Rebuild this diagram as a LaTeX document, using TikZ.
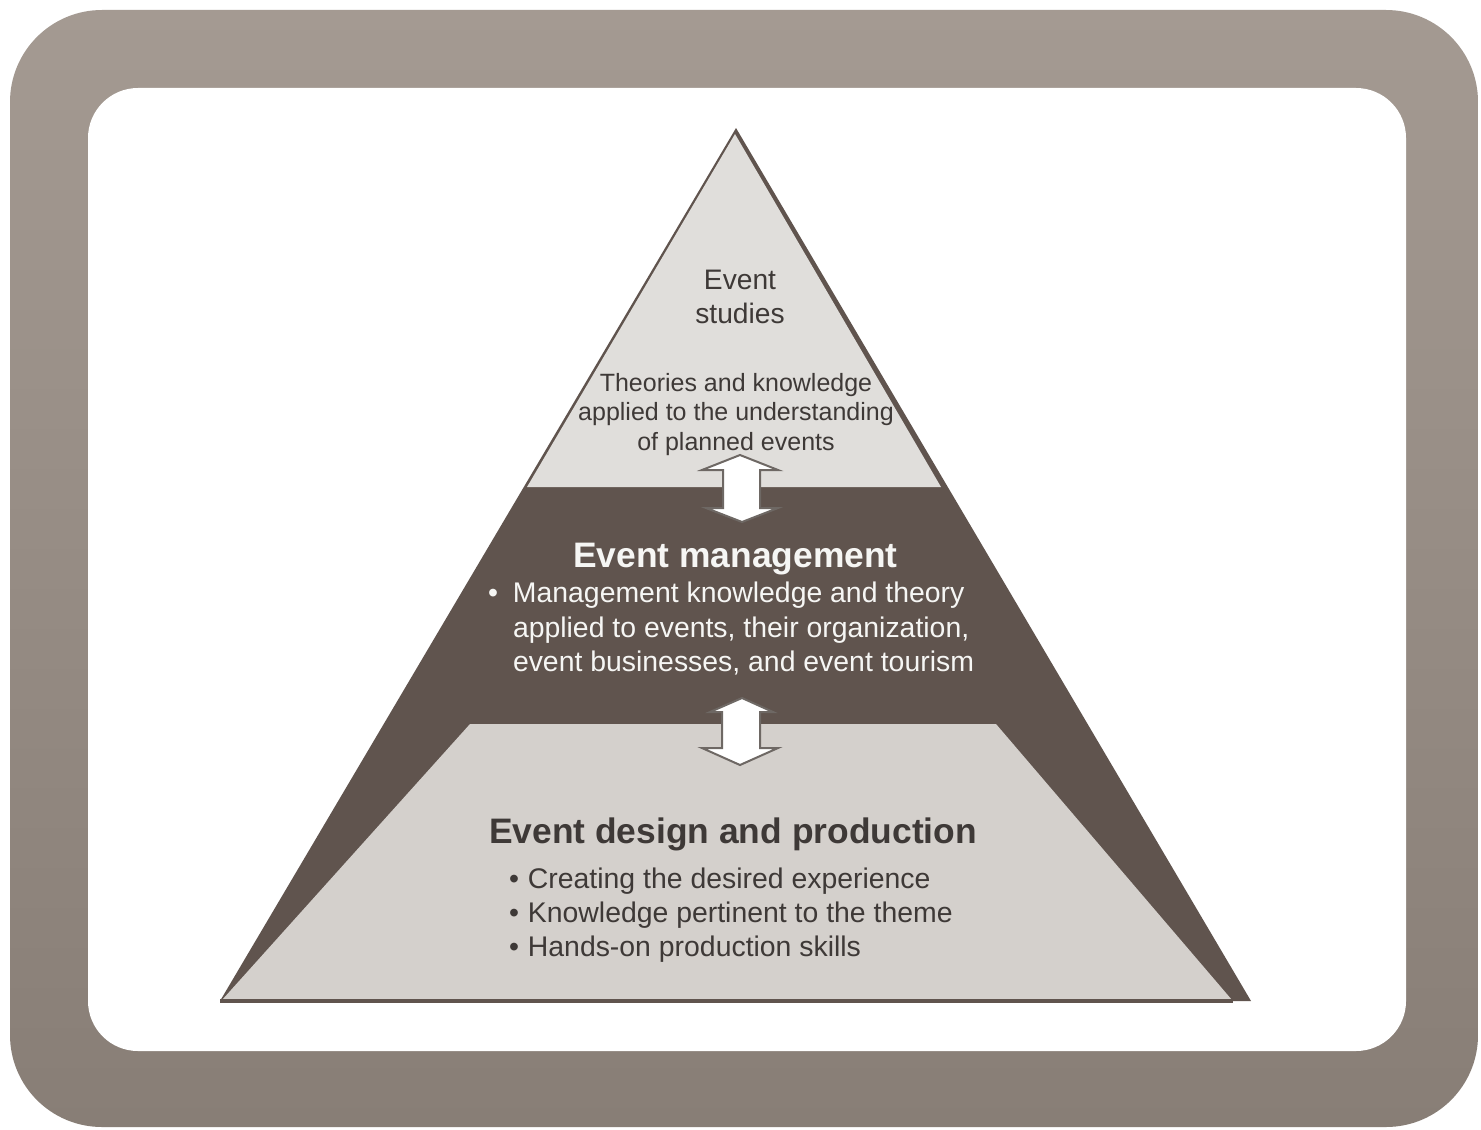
\documentclass[tikz,border=0pt]{standalone}
\usepackage{fontspec}
\setmainfont{Liberation Sans}
\definecolor{darkc}{RGB}{96,84,78}
\definecolor{lightb}{RGB}{212,208,204}
\definecolor{lightt}{RGB}{224,222,219}
\definecolor{txtc}{RGB}{62,57,55}
\definecolor{wtxt}{RGB}{246,246,244}
\definecolor{frametop}{RGB}{164,154,146}
\definecolor{framebot}{RGB}{136,126,118}
\definecolor{arrowline}{RGB}{110,104,100}
\begin{document}
\begin{tikzpicture}[x=0.5pt,y=-0.5pt,
  txt/.style={inner sep=0pt, outer sep=0pt, text=txtc},
  studies/.style={txt, anchor=base, font=\fontsize{14.1pt}{17pt}\selectfont},
  theory/.style={txt, anchor=base, font=\fontsize{12.5pt}{15pt}\selectfont},
  title/.style={txt, anchor=base, font=\fontsize{17.7pt}{21pt}\selectfont\bfseries},
  bullet/.style={txt, anchor=base west, font=\fontsize{14.2pt}{17pt}\selectfont},
  blockarrow/.style={fill=white, draw=arrowline, line width=1pt, line join=miter}]
\useasboundingbox (0,0) rectangle (1481,1129);
\fill[white] (0,0) rectangle (1481,1129);
% frame
\shade[top color=frametop, bottom color=framebot, rounded corners=46pt] (10,10) rectangle (1478,1127);
\fill[white, rounded corners=25pt] (88,88) rectangle (1406,1051);
% pyramid
\fill[darkc] (736,128) -- (1251,1001) -- (220,1001) -- cycle;
\fill[lightt] (735,134) -- (941,487) -- (527,487) -- cycle;
\fill[lightb] (470,724) -- (996,724) -- (1232,1000) -- (222,1000) -- cycle;
\draw[darkc, line width=1.6pt] (220,1001) -- (1233,1001);
% double block arrows
\draw[blockarrow] (740,455) -- (778,470) -- (760,470) -- (760,508) -- (778,508)
  -- (742,522) -- (706,508) -- (723,508) -- (723,470) -- (702,470) -- cycle;
\draw[blockarrow] (742,698) -- (773,712) -- (760,712) -- (760,748) -- (778,748)
  -- (740,765) -- (702,748) -- (722,748) -- (722,712) -- (710,712) -- cycle;
% top tier text
\node[studies] (es1) at (740,289) {Event};
\node[studies] (es2) at (740,323) {studies};
\node[theory] (th1) at (736,391) {Theories and knowledge};
\node[theory] (th2) at (736,420) {applied to the understanding};
\node[theory] (th3) at (736,450) {of planned events};
% middle tier text
\node[title, text=wtxt] (em) at (735.5,567) {Event management};
\node[bullet, text=wtxt] (em1) at (488,602) {•\hspace{7.5pt}Management knowledge and theory};
\node[bullet, text=wtxt] (em2) at (513,637) {applied to events, their organization,};
\node[bullet, text=wtxt] (em3) at (513,671) {event businesses, and event tourism};
% bottom tier text
\node[title] (ed) at (733,843) {Event design and production};
\node[bullet] (ed1) at (509,888) {•\hspace{4.5pt}Creating the desired experience};
\node[bullet] (ed2) at (509,922) {•\hspace{4.5pt}Knowledge pertinent to the theme};
\node[bullet] (ed3) at (509,956) {•\hspace{4.5pt}Hands-on production skills};
\end{tikzpicture}
\end{document}
